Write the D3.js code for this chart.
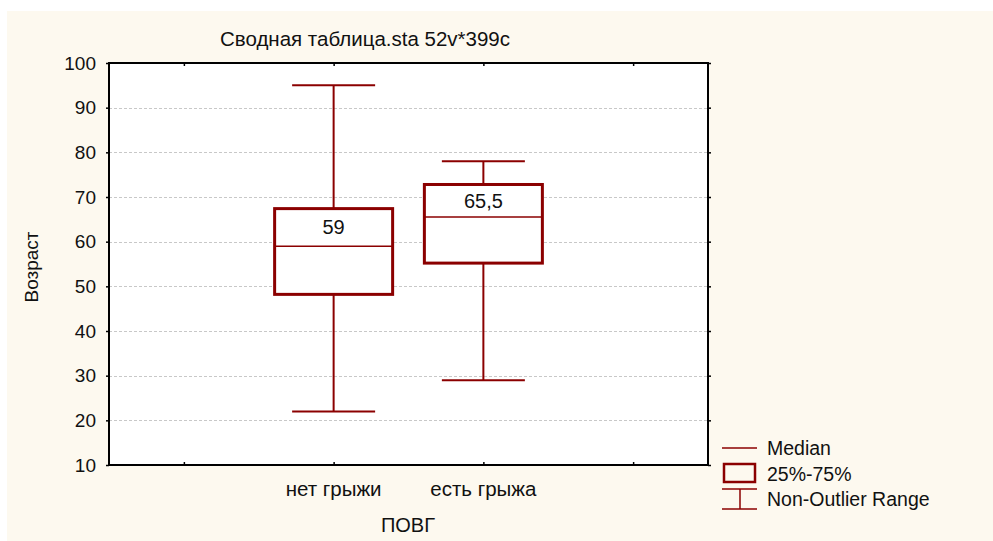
<!DOCTYPE html>
<html>
<head>
<meta charset="utf-8">
<script src="https://cdn.jsdelivr.net/npm/d3@7"></script>
<style>
  html, body { margin: 0; padding: 0; background: #ffffff; }
  svg { display: block; }
  text { font-family: "Liberation Sans", Arial, sans-serif; fill: #111; }
</style>
</head>
<body>
<svg id="chart" width="993" height="541"></svg>
<script>
// Box plot: age (Возраст) by hernia status (ПОВГ)
const categories = ["нет грыжи", "есть грыжа"];
const medians   = [59, 65.5];
const q1Values  = [48.2, 55.2];
const q3Values  = [67.4, 72.8];
const minValues = [22, 29];
const maxValues = [95, 78];
const medianLabels = ["59", "65,5"];
const yTicks = [10, 20, 30, 40, 50, 60, 70, 80, 90, 100];
const legendItems = ["Median", "25%-75%", "Non-Outlier Range"];

const titleText = "Сводная таблица.sta 52v*399c";
const yTitle = "Возраст";
const xTitle = "ПОВГ";

const boxColor = "#8B0000";
const svg = d3.select("#chart");

// Panel background
svg.append("rect").attr("x", 7).attr("y", 11).attr("width", 986).attr("height", 530)
  .attr("fill", "#FDF9EF");

const plot = { left: 109, top: 63, right: 708, bottom: 465 };

const y = d3.scaleLinear().domain([10, 100]).range([plot.bottom, plot.top]);
// Category positions 1..n on a linear axis with half-step padding
const x = d3.scaleLinear().domain([-0.5, categories.length + 1.5]).range([plot.left, plot.right]);
const xTickPos = d3.range(0, categories.length + 2);

// Plot area
svg.append("rect").attr("x", plot.left).attr("y", plot.top)
  .attr("width", plot.right - plot.left).attr("height", plot.bottom - plot.top)
  .attr("fill", "#ffffff");

// Gridlines
svg.append("g").selectAll("line").data(yTicks.filter(d => d > 10 && d < 100)).join("line")
  .attr("x1", plot.left).attr("x2", plot.right)
  .attr("y1", d => Math.round(y(d)) + 0.5).attr("y2", d => Math.round(y(d)) + 0.5)
  .attr("stroke", "#c8c8c8").attr("stroke-width", 1).attr("stroke-dasharray", "3,2");

// Axes
const yAxis = d3.axisLeft(y).tickValues(yTicks).tickSize(3).tickPadding(10).tickFormat(d3.format("d"));
const gy = svg.append("g").attr("transform", `translate(${plot.left},0)`).call(yAxis);
gy.select(".domain").remove();
gy.selectAll(".tick line").attr("stroke", "#000").attr("stroke-width", 1.5);
gy.selectAll(".tick text").style("font-size", "19px").attr("fill", "#111")
  .style("font-family", "'Liberation Sans', Arial, sans-serif");

const yAxisR = d3.axisRight(y).tickValues(yTicks).tickSize(3).tickFormat("");
const gyr = svg.append("g").attr("transform", `translate(${plot.right},0)`).call(yAxisR);
gyr.select(".domain").remove();
gyr.selectAll(".tick line").attr("stroke", "#000").attr("stroke-width", 1.5);

const xAxisB = d3.axisBottom(x).tickValues(xTickPos).tickSize(-3).tickFormat("");
const gxb = svg.append("g").attr("transform", `translate(0,${plot.bottom})`).call(xAxisB);
gxb.select(".domain").remove();
gxb.selectAll(".tick line").attr("stroke", "#000").attr("stroke-width", 1.5);

const xAxisT = d3.axisTop(x).tickValues(xTickPos).tickSize(-3).tickFormat("");
const gxt = svg.append("g").attr("transform", `translate(0,${plot.top})`).call(xAxisT);
gxt.select(".domain").remove();
gxt.selectAll(".tick line").attr("stroke", "#000").attr("stroke-width", 1.5);

// Frame
svg.append("rect").attr("x", plot.left).attr("y", plot.top)
  .attr("width", plot.right - plot.left).attr("height", plot.bottom - plot.top)
  .attr("fill", "none").attr("stroke", "#000").attr("stroke-width", 2);

// Category labels
svg.append("g").selectAll("text").data(categories).join("text")
  .attr("x", (d, i) => x(i + 1)).attr("y", 496)
  .attr("text-anchor", "middle").style("font-size", "20.5px").text(d => d);

// Boxes
const boxW = 118, capW = 83;
const boxes = svg.append("g").selectAll("g").data(categories).join("g");

boxes.append("line")
  .attr("x1", (d, i) => x(i + 1)).attr("x2", (d, i) => x(i + 1))
  .attr("y1", (d, i) => y(maxValues[i])).attr("y2", (d, i) => y(q3Values[i]))
  .attr("stroke", boxColor).attr("stroke-width", 2);
boxes.append("line")
  .attr("x1", (d, i) => x(i + 1)).attr("x2", (d, i) => x(i + 1))
  .attr("y1", (d, i) => y(q1Values[i])).attr("y2", (d, i) => y(minValues[i]))
  .attr("stroke", boxColor).attr("stroke-width", 2);
boxes.append("line")
  .attr("x1", (d, i) => x(i + 1) - capW / 2).attr("x2", (d, i) => x(i + 1) + capW / 2)
  .attr("y1", (d, i) => y(maxValues[i])).attr("y2", (d, i) => y(maxValues[i]))
  .attr("stroke", boxColor).attr("stroke-width", 2);
boxes.append("line")
  .attr("x1", (d, i) => x(i + 1) - capW / 2).attr("x2", (d, i) => x(i + 1) + capW / 2)
  .attr("y1", (d, i) => y(minValues[i])).attr("y2", (d, i) => y(minValues[i]))
  .attr("stroke", boxColor).attr("stroke-width", 2);
boxes.append("rect")
  .attr("x", (d, i) => x(i + 1) - boxW / 2).attr("width", boxW)
  .attr("y", (d, i) => y(q3Values[i]))
  .attr("height", (d, i) => y(q1Values[i]) - y(q3Values[i]))
  .attr("fill", "#ffffff").attr("stroke", boxColor).attr("stroke-width", 3);
boxes.append("line")
  .attr("x1", (d, i) => x(i + 1) - boxW / 2).attr("x2", (d, i) => x(i + 1) + boxW / 2)
  .attr("y1", (d, i) => y(medians[i])).attr("y2", (d, i) => y(medians[i]))
  .attr("stroke", boxColor).attr("stroke-width", 1.5);
boxes.append("text")
  .attr("x", (d, i) => x(i + 1))
  .attr("y", (d, i) => (y(q3Values[i]) + y(medians[i])) / 2 + 7)
  .attr("text-anchor", "middle").style("font-size", "20px")
  .text((d, i) => medianLabels[i]);

// Titles
svg.append("text").attr("x", 365).attr("y", 46).attr("text-anchor", "middle")
  .style("font-size", "20.5px").text(titleText);
svg.append("text").attr("transform", "translate(38,267) rotate(-90)")
  .attr("text-anchor", "middle").style("font-size", "19px").text(yTitle);
svg.append("text").attr("x", 408).attr("y", 532).attr("text-anchor", "middle")
  .style("font-size", "20px").text(xTitle);

// Legend
const lg = svg.append("g");
lg.append("line").attr("x1", 722).attr("x2", 757).attr("y1", 448).attr("y2", 448)
  .attr("stroke", boxColor).attr("stroke-width", 1.5);
lg.append("rect").attr("x", 724).attr("y", 464).attr("width", 31).attr("height", 18)
  .attr("fill", "none").attr("stroke", boxColor).attr("stroke-width", 2.5);
lg.append("line").attr("x1", 722).attr("x2", 757).attr("y1", 489).attr("y2", 489)
  .attr("stroke", boxColor).attr("stroke-width", 1.5);
lg.append("line").attr("x1", 722).attr("x2", 757).attr("y1", 509).attr("y2", 509)
  .attr("stroke", boxColor).attr("stroke-width", 1.5);
lg.append("line").attr("x1", 740).attr("x2", 740).attr("y1", 489).attr("y2", 509)
  .attr("stroke", boxColor).attr("stroke-width", 1.5);
lg.selectAll("text").data(legendItems).join("text")
  .attr("x", 767).attr("y", (d, i) => 455 + i * 25.5)
  .style("font-size", "19.5px").text(d => d);
</script>
</body>
</html>
